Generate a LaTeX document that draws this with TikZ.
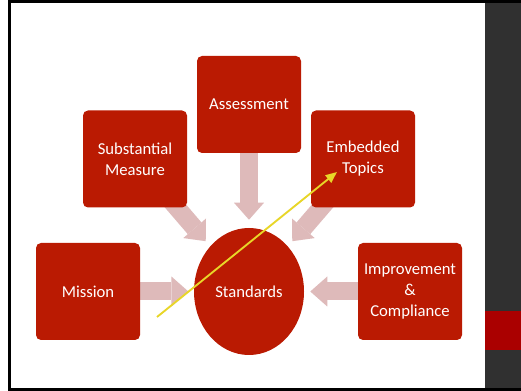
\documentclass[tikz,border=0pt]{standalone}
\usepackage{fontspec}
\setmainfont{Carlito}
\usetikzlibrary{arrows.meta}
\usetikzlibrary{backgrounds}
\usetikzlibrary{shapes.geometric}

\definecolor{boxred}{RGB}{186,26,2}
\definecolor{arrowpink}{RGB}{222,186,186}
\definecolor{panelgray}{RGB}{48,48,48}
\definecolor{bandred}{RGB}{170,0,0}
\definecolor{penyellow}{RGB}{232,214,40}

\pgfdeclareradialshading{vignette}{\pgfpoint{0bp}{0bp}}{color(0bp)=(white); color(40bp)=(white); color(71bp)=(black!13)}

\begin{document}
\begin{tikzpicture}[x=0.75pt,y=-0.75pt]
		\useasboundingbox (0,0) rectangle (521,391);
		\begin{scope}[on background layer]
			\fill[white] (0,0) rectangle (521,391);
			\shade[shading=vignette] (11,3) rectangle (485,388);
			\fill[black] (8,0) rectangle (521,3);
			\fill[black] (8,0) rectangle (11,391);
			\fill[black] (8,388) rectangle (521,391);
			\fill[panelgray] (485,3) rectangle (521,388);
			\fill[bandred] (485,311) rectangle (521,350);
		\end{scope}

		\begin{scope}[every node/.style={rectangle,rounded corners=3.75pt,fill=boxred,text=white,
		              minimum width=78pt,minimum height=72.75pt,inner sep=0pt,align=center,
		              font=\fontsize{12.5}{15.75}\selectfont}]
			\node (assess) at (249,104.5) {Assessment};
			\node (subst) at (135,159) {Substantial\\Measure};
			\node (embed) at (363,159) {Embedded\\Topics};
			\node (mission) at (88,291.5) {Mission};
			\node (improve) at (410,291.5) {Improvement\\\&\\Compliance};
			\node[ellipse,minimum width=82.5pt,minimum height=95.25pt] (std) at (249,291.5) {Standards};
		\end{scope}

		\begin{scope}[on background layer,
		              every edge/.style={draw=arrowpink,line width=13.5pt,
		              -{Triangle[length=12.75pt,width=22.5pt,line width=0pt]}}]
			\path (assess.center) edge[shorten >=6pt] (std);
			\path (subst.center) edge[shorten >=5pt] (std);
			\path (embed.center) edge[shorten >=5pt] (std);
			\path (mission.center) edge[shorten >=4pt] (std);
			\path (improve.center) edge[shorten >=4.5pt] (std);
		\end{scope}

		\coordinate (pen start) at (157,317);
		\coordinate (pen end) at (337,172);
		\draw[penyellow,line width=1.4pt,-{Triangle[length=8.5pt,width=7pt]}] (pen start) -- (pen end);
\end{tikzpicture}
\end{document}
